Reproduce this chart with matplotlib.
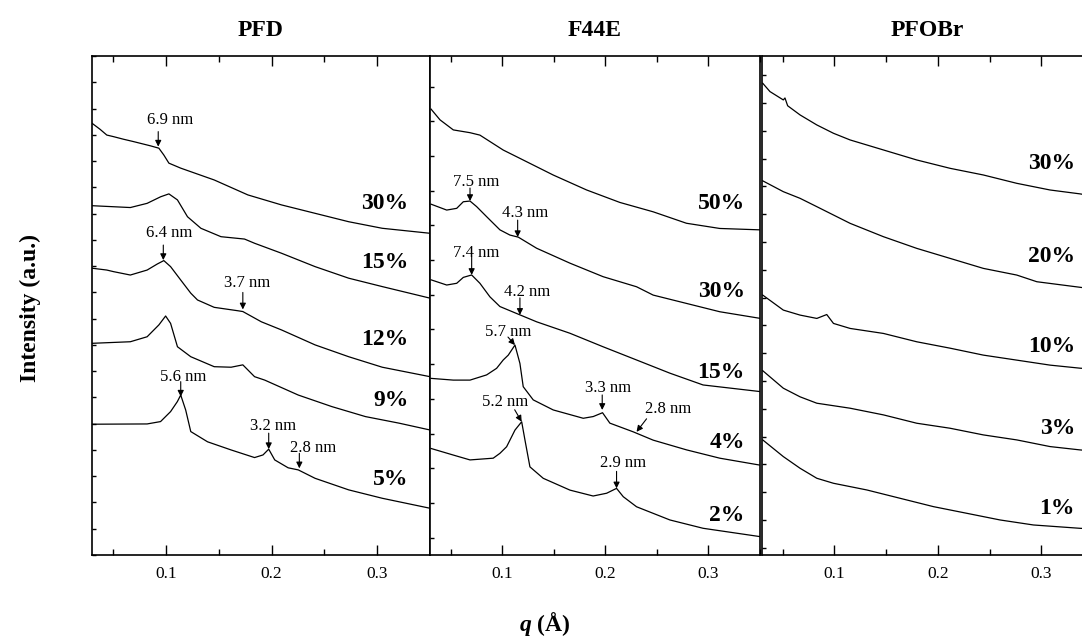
import matplotlib
matplotlib.use('Agg')
import matplotlib.pyplot as plt
from matplotlib.ticker import MultipleLocator

plt.rcParams['font.family'] = ['Liberation Serif', 'DejaVu Serif']
plt.rcParams['mathtext.fontset'] = 'custom'
plt.rcParams['mathtext.it'] = 'Liberation Serif:italic:bold'
plt.rcParams['mathtext.rm'] = 'Liberation Serif:bold'

# ---------------- PFD ----------------
pfd_labels = ['30%', '15%', '12%', '9%', '5%']
pfd_q = [
    [0.030, 0.0376, 0.0440, 0.0503, 0.0599, 0.0694, 0.0853, 0.0933, 0.0980, 0.1028, 0.1140, 0.1457, 0.1776, 0.2094, 0.2412, 0.2730, 0.3048, 0.350],
    [0.030, 0.0663, 0.0822, 0.0950, 0.1028, 0.1109, 0.1204, 0.1331, 0.1521, 0.1744, 0.1839, 0.2094, 0.2412, 0.2730, 0.3048, 0.350],
    [0.030, 0.0440, 0.0503, 0.0663, 0.0822, 0.0918, 0.0980, 0.1044, 0.1140, 0.1235, 0.1299, 0.1457, 0.1681, 0.1728, 0.1903, 0.2094, 0.2412, 0.2730, 0.3048, 0.350],
    [0.030, 0.0663, 0.0822, 0.0933, 0.0997, 0.1044, 0.1109, 0.1235, 0.1457, 0.1617, 0.1728, 0.1839, 0.1935, 0.2253, 0.2571, 0.2889, 0.3207, 0.350],
    [0.030, 0.0822, 0.0949, 0.1044, 0.1108, 0.1140, 0.1187, 0.1235, 0.1394, 0.1617, 0.1839, 0.1919, 0.1973, 0.2030, 0.2157, 0.2253, 0.2412, 0.2730, 0.3048, 0.350],
]
pfd_i = [
    [16.44, 16.21, 15.99, 15.93, 15.83, 15.74, 15.58, 15.49, 15.23, 14.92, 14.73, 14.28, 13.71, 13.33, 13.01, 12.69, 12.44, 12.25],
    [13.30, 13.23, 13.39, 13.64, 13.75, 13.52, 12.88, 12.44, 12.12, 12.03, 11.87, 11.49, 10.98, 10.54, 10.22, 9.78],
    [10.92, 10.85, 10.79, 10.66, 10.85, 11.08, 11.21, 10.98, 10.47, 9.97, 9.71, 9.43, 9.30, 9.27, 8.88, 8.57, 8.00, 7.55, 7.15, 6.79],
    [8.06, 8.12, 8.31, 8.76, 9.10, 8.82, 7.93, 7.55, 7.17, 7.15, 7.24, 6.79, 6.66, 6.09, 5.65, 5.27, 5.02, 4.76],
    [4.98, 4.99, 5.08, 5.46, 5.84, 6.09, 5.52, 4.70, 4.31, 4.00, 3.71, 3.81, 4.03, 3.62, 3.32, 3.24, 2.92, 2.48, 2.16, 1.78],
]
pfd_peak_text = ['6.9 nm', '6.4 nm', '3.7 nm', '5.6 nm', '3.2 nm', '2.8 nm']
pfd_peak_q = [0.0927, 0.0975, 0.1728, 0.1140, 0.1973, 0.2263]
pfd_peak_i = [15.55, 11.23, 9.35, 6.03, 4.03, 3.30]

# ---------------- F44E ----------------
f44e_labels = ['50%', '30%', '15%', '4%', '2%']
f44e_q = [
    [0.031, 0.0397, 0.0526, 0.0688, 0.0784, 0.1010, 0.1172, 0.1495, 0.1818, 0.2141, 0.2464, 0.2787, 0.3110, 0.350],
    [0.031, 0.0462, 0.0559, 0.0623, 0.0688, 0.0752, 0.0849, 0.0978, 0.1075, 0.1156, 0.1334, 0.1657, 0.1979, 0.2303, 0.2464, 0.2787, 0.3110, 0.350],
    [0.031, 0.0462, 0.0559, 0.0623, 0.0704, 0.0784, 0.0881, 0.0978, 0.1172, 0.1334, 0.1657, 0.1979, 0.2303, 0.2626, 0.2948, 0.350],
    [0.031, 0.0526, 0.0688, 0.0849, 0.0946, 0.1010, 0.1059, 0.1124, 0.1172, 0.1204, 0.1301, 0.1495, 0.1786, 0.1883, 0.1973, 0.2044, 0.2270, 0.2464, 0.2787, 0.3110, 0.350],
    [0.031, 0.0526, 0.0688, 0.0913, 0.0978, 0.1043, 0.1092, 0.1124, 0.1189, 0.1221, 0.1269, 0.1398, 0.1657, 0.1882, 0.2013, 0.2109, 0.2174, 0.2303, 0.2626, 0.2948, 0.350],
]
f44e_i = [
    [13.35, 13.04, 12.75, 12.67, 12.60, 12.17, 11.93, 11.45, 11.02, 10.66, 10.39, 10.06, 9.91, 9.87],
    [10.61, 10.44, 10.49, 10.68, 10.70, 10.54, 10.25, 9.87, 9.72, 9.66, 9.34, 8.91, 8.52, 8.23, 7.99, 7.75, 7.51, 7.32],
    [8.43, 8.28, 8.33, 8.50, 8.57, 8.33, 7.94, 7.66, 7.42, 7.22, 6.89, 6.50, 6.12, 5.74, 5.40, 5.21],
    [5.59, 5.54, 5.54, 5.69, 5.88, 6.12, 6.26, 6.55, 6.02, 5.35, 4.97, 4.68, 4.44, 4.49, 4.60, 4.30, 4.05, 3.81, 3.53, 3.29, 3.09],
    [3.57, 3.38, 3.24, 3.29, 3.43, 3.62, 3.91, 4.10, 4.34, 3.81, 3.04, 2.71, 2.37, 2.20, 2.28, 2.42, 2.18, 1.89, 1.51, 1.27, 1.03],
]
f44e_peak_text = ['7.5 nm', '4.3 nm', '7.4 nm', '4.2 nm', '5.7 nm', '3.3 nm', '2.8 nm', '5.2 nm', '2.9 nm']
f44e_peak_q = [0.0688, 0.1150, 0.0704, 0.1172, 0.1124, 0.1970, 0.2303, 0.1189, 0.2109]
f44e_peak_i = [10.70, 9.66, 8.57, 7.42, 6.55, 4.68, 4.05, 4.34, 2.42]

# ---------------- PFOBr ----------------
pfobr_labels = ['30%', '20%', '10%', '3%', '1%']
pfobr_q = [
    [0.0307, 0.0377, 0.0506, 0.0522, 0.0548, 0.0668, 0.0830, 0.0991, 0.1152, 0.1474, 0.1796, 0.2118, 0.2440, 0.2763, 0.3085, 0.3375, 0.350],
    [0.0307, 0.0506, 0.0668, 0.0830, 0.0991, 0.1152, 0.1313, 0.1474, 0.1796, 0.2118, 0.2440, 0.2763, 0.2957, 0.3375, 0.350],
    [0.0307, 0.0506, 0.0668, 0.0830, 0.0926, 0.0991, 0.1152, 0.1474, 0.1796, 0.2118, 0.2440, 0.2763, 0.3085, 0.3375, 0.350],
    [0.0307, 0.0506, 0.0668, 0.0830, 0.1152, 0.1474, 0.1796, 0.2118, 0.2440, 0.2763, 0.3085, 0.3375, 0.350],
    [0.0307, 0.0506, 0.0668, 0.0830, 0.0991, 0.1313, 0.1635, 0.1957, 0.2280, 0.2602, 0.2924, 0.3375, 0.350],
]
pfobr_i = [
    [17.71, 17.41, 17.11, 17.18, 16.90, 16.57, 16.21, 15.91, 15.67, 15.31, 14.95, 14.65, 14.41, 14.11, 13.87, 13.73, 13.65],
    [14.20, 13.81, 13.57, 13.27, 12.97, 12.67, 12.43, 12.19, 11.77, 11.41, 11.05, 10.81, 10.57, 10.37, 10.31],
    [10.09, 9.55, 9.37, 9.25, 9.39, 9.07, 8.89, 8.71, 8.41, 8.18, 7.93, 7.75, 7.57, 7.46, 7.43],
    [7.37, 6.74, 6.43, 6.20, 6.02, 5.78, 5.48, 5.30, 5.06, 4.88, 4.64, 4.52, 4.48],
    [4.88, 4.28, 3.86, 3.50, 3.32, 3.08, 2.78, 2.48, 2.24, 2.00, 1.82, 1.70, 1.68],
]

# 版面：三个面板紧挨着，第三个超出图片右边缘
fig = plt.figure(figsize=(10.82, 6.39), dpi=100)
W, H = 1082.0, 639.0
top_px, bot_px = 56, 555
panels = [
    # (left px, width px, title, ylim, label x, label y)
    (92, 338, 'PFD', (0, 19), 0.3296, [13.40, 11.12, 8.19, 5.90, 2.86]),
    (430, 330, 'F44E', (0.5, 14.88), 0.3352, [10.64, 8.08, 5.77, 3.73, 1.65]),
    (762, 331, 'PFOBr', (0.74, 18.69), 0.3327, [14.83, 11.47, 8.23, 5.30, 2.42]),
]
curves_q = [pfd_q, f44e_q, pfobr_q]
curves_i = [pfd_i, f44e_i, pfobr_i]
curve_labels = [pfd_labels, f44e_labels, pfobr_labels]

# 注释的文字偏移和箭头起点（像素，向上为正）
peak_sets = [
    (pfd_peak_text, pfd_peak_q, pfd_peak_i,
     [(12, 27), (6, 27), (4, 26), (2, 20), (4, 23), (14, 20)],
     [(0, 15), (0, 15), (0, 17), (0, 15), (0, 16), (0, 15)]),
    (f44e_peak_text, f44e_peak_q, f44e_peak_i,
     [(6, 19), (7, 24), (5, 22), (7, 23), (-7, 13), (6, 22), (32, 23), (-17, 20), (7, 25)],
     [(0, 13), (0, 17), (0, 18), (0, 17), (-7, 8), (0, 15), (10, 13), (-7, 12), (0, 17)]),
    None,
]

for n, (left, width, title, ylim, lab_x, lab_y) in enumerate(panels):
    ax = fig.add_axes([left / W, (H - bot_px) / H, width / W, (bot_px - top_px) / H])
    for q, inten in zip(curves_q[n], curves_i[n]):
        ax.plot(q, inten, color='k', lw=0.9)
    for lab, y in zip(curve_labels[n], lab_y):
        ax.text(lab_x, y, lab, ha='right', va='center', fontsize=17, fontweight='bold')

    if peak_sets[n] is not None:
        texts, pq, pi, toff, aoff = peak_sets[n]
        for t, q, i, (tx, ty), (ax_, ay) in zip(texts, pq, pi, toff, aoff):
            ax.annotate('', xy=(q, i), xytext=(ax_, ay), textcoords='offset pixels',
                        arrowprops=dict(arrowstyle='-|>', color='k', lw=0.8,
                                        mutation_scale=9, shrinkA=0, shrinkB=0))
            ax.annotate(t, xy=(q, i), xytext=(tx, ty), textcoords='offset pixels',
                        ha='center', va='center', fontsize=12)

    ax.set_xlim(0.03, 0.35)
    ax.set_ylim(*ylim)
    ax.xaxis.set_major_locator(MultipleLocator(0.1))
    ax.xaxis.set_minor_locator(MultipleLocator(0.05))
    ax.yaxis.set_major_locator(MultipleLocator(1))
    ax.tick_params(axis='x', which='both', direction='in', top=True, labelsize=12.5, pad=8)
    ax.tick_params(axis='x', which='major', length=7, width=1)
    ax.tick_params(axis='x', which='minor', length=4, width=1)
    ax.tick_params(axis='y', which='both', direction='in', left=True, right=False,
                   labelleft=False, length=3, width=1)
    for sp in ax.spines.values():
        sp.set_linewidth(1.2)
    ax.text(0.5, 1 + 25 / 499, title, transform=ax.transAxes, ha='center', va='center',
            fontsize=17, fontweight='bold')

fig.text(30 / W, 1 - 308 / H, 'Intensity (a.u.)', rotation=90, ha='center', va='center',
         fontsize=17, fontweight='bold')
fig.text(545 / W, 1 - 624 / H, '$q$ (Å)', ha='center', va='center',
         fontsize=17, fontweight='bold')

fig.savefig('out.png', dpi=100)
